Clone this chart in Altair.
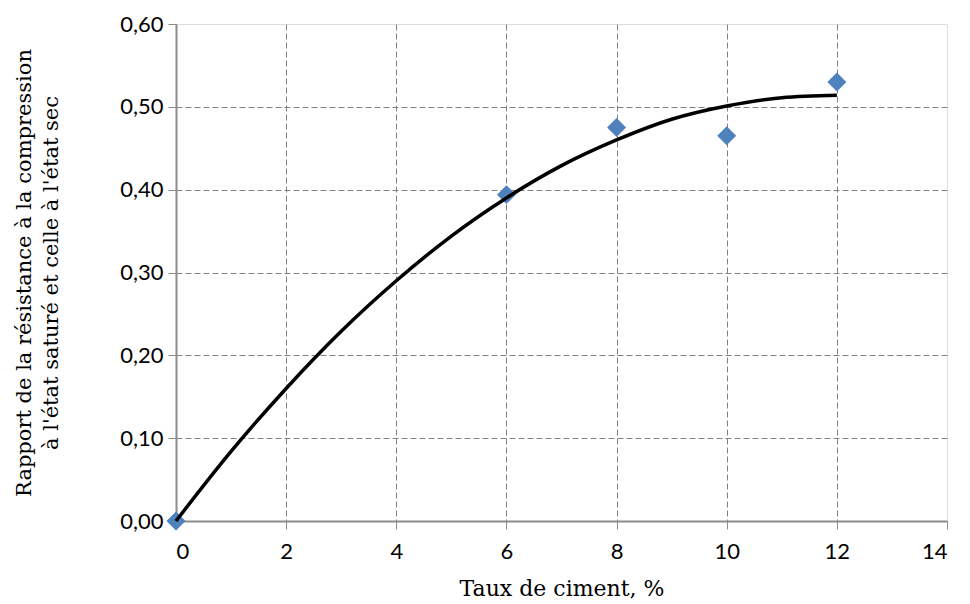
import altair as alt
import pandas as pd

# Measured points
pts_x = [0, 6, 8, 10, 12]
pts_y = [0.0, 0.394, 0.475, 0.465, 0.530]

# Trend curve
curve_x = [0, 1, 2, 3, 4, 5, 6, 7, 8, 9, 10, 11, 12]
curve_y = [0.0, 0.084, 0.160, 0.229, 0.290, 0.344, 0.390, 0.429, 0.460, 0.485, 0.501, 0.511, 0.514]

x_ticks = [0, 2, 4, 6, 8, 10, 12, 14]
y_ticks = [0.0, 0.1, 0.2, 0.3, 0.4, 0.5, 0.6]

pts = pd.DataFrame({"x": pts_x, "y": pts_y})
curve = pd.DataFrame({"x": curve_x, "y": curve_y})

serif = "DejaVu Serif"
sans = "Lato"

xscale = alt.Scale(domain=[0, 14], nice=False, zero=True)
yscale = alt.Scale(domain=[0, 0.6], nice=False)

xaxis = alt.Axis(values=x_ticks, title="Taux de ciment, %", format="d",
                 grid=True, gridDash=[6, 3], gridColor="#808080", gridWidth=1,
                 gridOpacity={"condition": {"test": "datum.value >= 14", "value": 0}, "value": 1},
                 domainColor="#8c8c8c", domainWidth=2, tickColor="#8c8c8c", tickSize=8,
                 labelFont=sans, labelFontSize=22, labelColor="#000", labelPadding=12,
                 titleFont=serif, titleFontSize=22, titleFontWeight="normal",
                 titleColor="#000", titlePadding=16)
yaxis = alt.Axis(values=y_ticks, title=["Rapport de la résistance à la compression",
                                         "à l'état saturé et celle  à l'état sec"],
                 labelExpr="replace(format(datum.value, '.2f'), '.', ',')",
                 grid=True, gridDash=[6, 3], gridColor="#808080", gridWidth=1,
                 gridOpacity={"condition": {"test": "datum.value >= 0.6", "value": 0}, "value": 1},
                 domainColor="#8c8c8c", domainWidth=2, tickColor="#8c8c8c", tickSize=8,
                 labelFont=sans, labelFontSize=22, labelColor="#000", labelPadding=5,
                 titleFont=serif, titleFontSize=21, titleFontWeight="normal",
                 titleColor="#000", titlePadding=58, titleLineHeight=27)

points = alt.Chart(pts).mark_point(shape="diamond", filled=True, size=360,
                                   color="#4F81BD", opacity=1).encode(
    x=alt.X("x:Q", scale=xscale, axis=xaxis),
    y=alt.Y("y:Q", scale=yscale, axis=yaxis),
)
line = alt.Chart(curve).mark_line(color="black", strokeWidth=3.5, interpolate="monotone").encode(
    x=alt.X("x:Q", scale=xscale),
    y=alt.Y("y:Q", scale=yscale),
)

chart = alt.layer(points, line).properties(width=771, height=497).configure_view(
    stroke="black", strokeWidth=2
).configure(background="white")

chart.save("out.html", embed_options={"renderer": "svg", "actions": False})
